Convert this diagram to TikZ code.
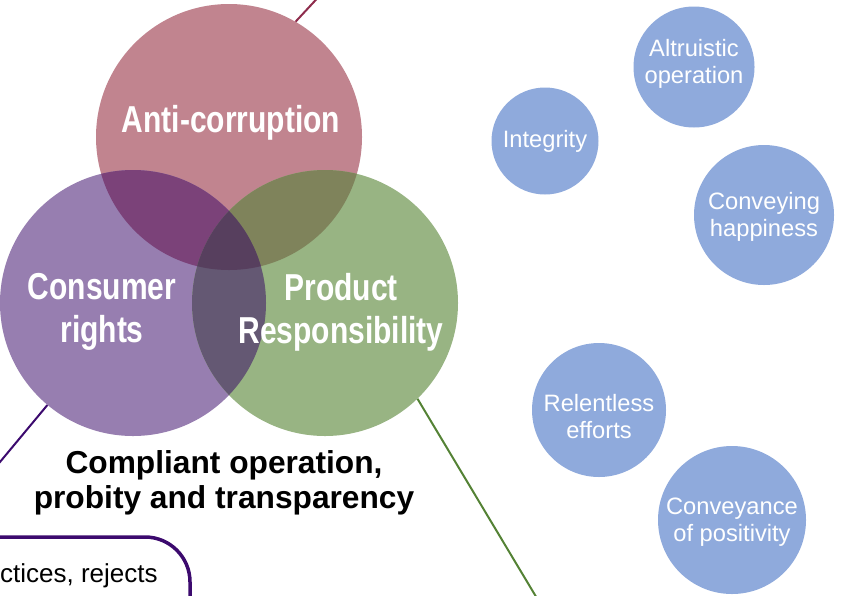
\documentclass[tikz,border=0pt]{standalone}
\usepackage{fontspec}
\setmainfont{Liberation Sans}
\usepackage{xcolor}
\usetikzlibrary{positioning}

\definecolor{antired}{HTML}{C1848F}
\definecolor{conspurple}{HTML}{977EB0}
\definecolor{prodgreen}{HTML}{98B483}
\definecolor{redpurple}{HTML}{7B4279}
\definecolor{redgreen}{HTML}{7F835B}
\definecolor{purplegreen}{HTML}{645873}
\definecolor{allthree}{HTML}{573F5E}
\definecolor{bubbleblue}{HTML}{8FAADC}
\definecolor{darkred}{HTML}{8E2C4C}
\definecolor{darkpurple}{HTML}{3C0A6E}
\definecolor{darkgreen}{HTML}{548235}

\begin{document}
\begin{tikzpicture}[x=1pt, y=-1pt,
    venn/.style={circle, minimum size=266pt, inner sep=0pt},
    vennlabel/.style={text=white, align=center, xscale=0.8, font=\fontsize{37.5}{43}\selectfont\bfseries},
    bubble/.style={circle, fill=bubbleblue, inner sep=0pt},
    bubbletext/.style={text=white, align=center, font=\fontsize{23.7}{27}\selectfont},
    spoke/.style={line width=2pt}]
    \useasboundingbox (0,0) rectangle (842,595);
    \clip (0,0) rectangle (842,595);

    \node[venn, fill=antired] (anti) at (229,137) {};
    \node[venn, fill=conspurple] (cons) at (133,303) {};
    \node[venn, fill=prodgreen] (prod) at (325,303) {};
    \begin{scope}
        \clip (anti.center) circle (133);
        \fill[redpurple] (cons.center) circle (133);
        \fill[redgreen] (prod.center) circle (133);
    \end{scope}
    \begin{scope}
        \clip (cons.center) circle (133);
        \fill[purplegreen] (prod.center) circle (133);
        \clip (anti.center) circle (133);
        \fill[allthree] (prod.center) circle (133);
    \end{scope}

    \node[vennlabel, anchor=base] (antitext) at (231,132) {Anti-corruption};
    \node[vennlabel] (constext) at (102,312) {Consumer\\rights};
    \node[vennlabel] (prodtext) at (341,312) {Product\\Responsibility};

    \node[font=\fontsize{31.7}{35}\selectfont\bfseries, align=center] (motto) at (224,483) {Compliant operation,\\probity and transparency};

    \coordinate (antiend) at (338,-24);
    \coordinate (consend) at (-20,486);
    \coordinate (prodend) at (547,615);
    \draw[spoke, darkred] (anti.60) -- (antiend);
    \draw[spoke, darkpurple] (cons.230) -- (consend);
    \draw[spoke, darkgreen] (prod.314) -- (prodend);

    \node[draw=darkpurple, line width=3.5pt, rounded corners=45pt, minimum width=300pt, minimum height=120pt] (dutybox) at (40,597) {};
    \node[anchor=base west, inner sep=0pt, font=\fontsize{26}{30}\selectfont] (dutytext) at (0,582) {ctices, rejects};

    \node[bubble, minimum size=121pt] (altruism) at (694,67) {};
    \node[bubble, minimum size=107pt] (integrity) at (545,141) {};
    \node[bubble, minimum size=140pt] (happiness) at (764,215) {};
    \node[bubble, minimum size=134pt] (efforts) at (599,410) {};
    \node[bubble, minimum size=148pt] (positivity) at (732,520) {};
    \node[bubbletext] (altruismtext) at ([yshift=3pt]altruism.center) {Altruistic\\operation};
    \node[bubbletext] (integritytext) at (integrity.center) {Integrity};
    \node[bubbletext] (happinesstext) at ([yshift=-1.5pt]happiness.center) {Conveying\\happiness};
    \node[bubbletext] (effortstext) at ([yshift=-7pt]efforts.center) {Relentless\\efforts};
    \node[bubbletext] (positivitytext) at ([yshift=-2pt]positivity.center) {Conveyance\\of positivity};
\end{tikzpicture}
\end{document}
